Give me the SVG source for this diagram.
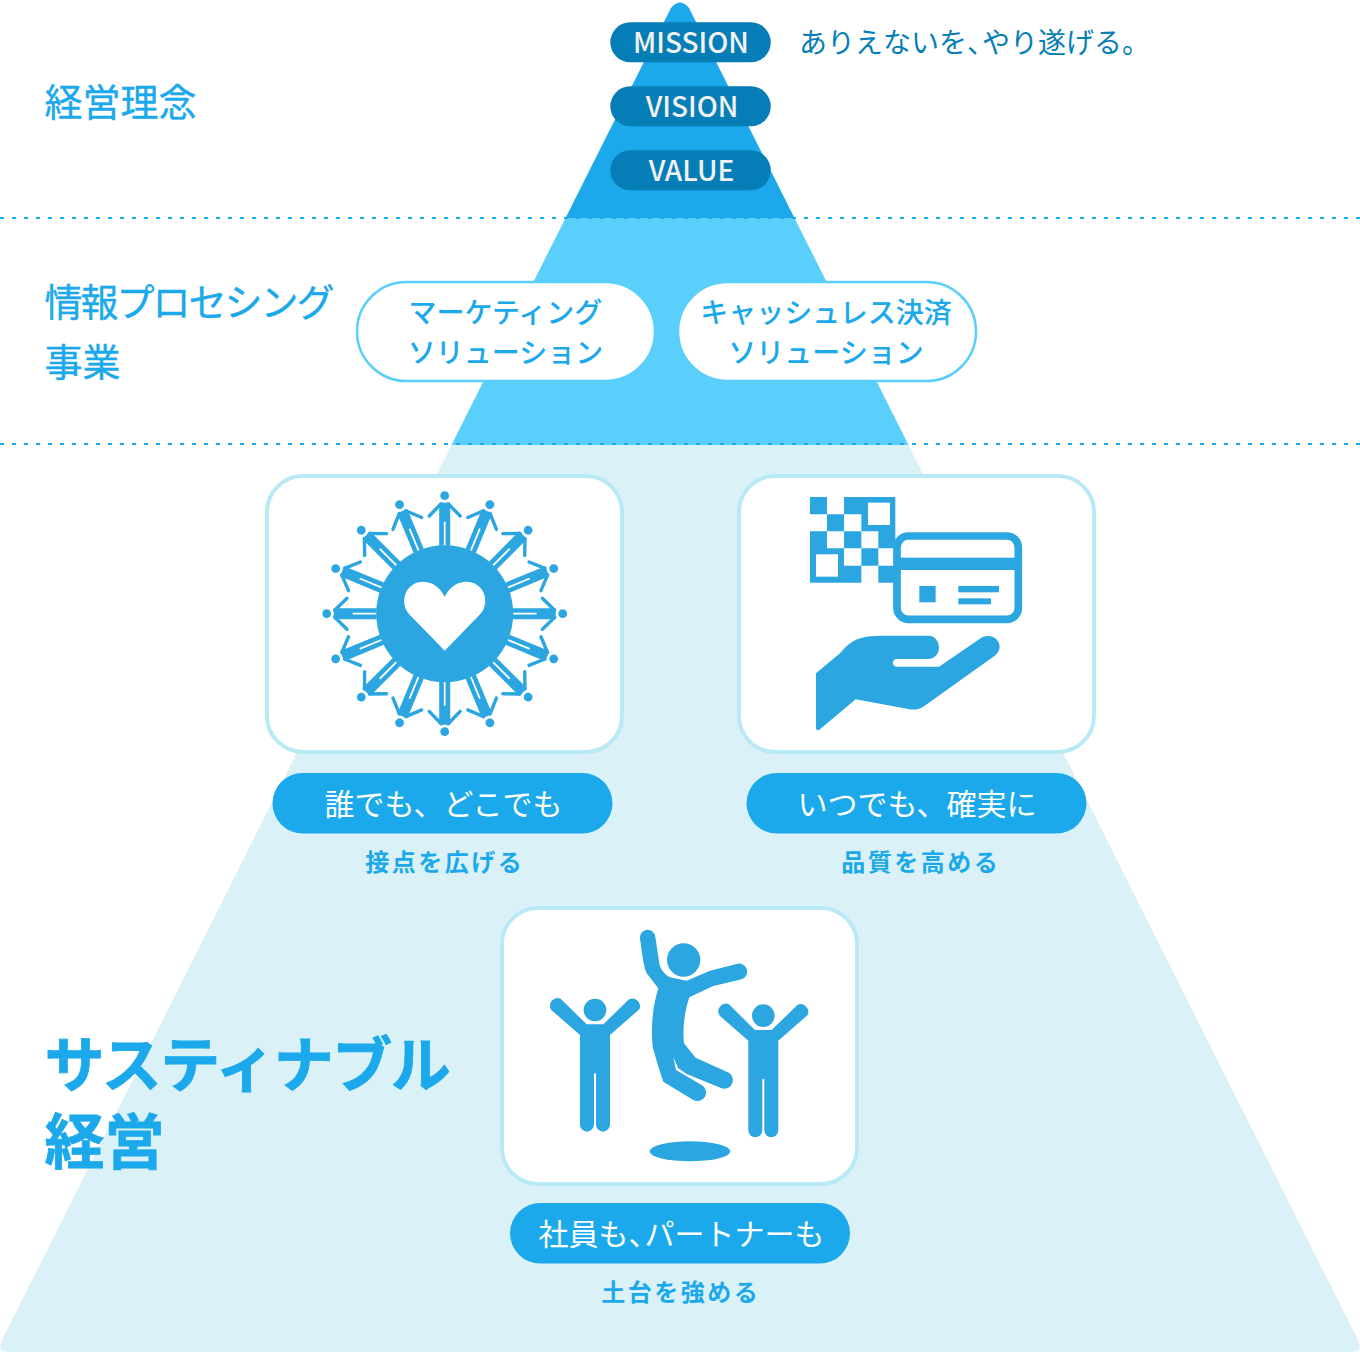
<svg xmlns="http://www.w3.org/2000/svg" width="1360" height="1352" viewBox="0 0 1360 1352">
<style>
text{font-family:"Noto Sans CJK JP","Noto Sans",sans-serif;fill:#1ba9eb}
.h{font-size:38px;font-weight:400;stroke:#1ba9eb;stroke-width:.4px}
.st{font-size:60px;font-weight:700;stroke:#1ba9eb;stroke-width:.8px}
.pill{fill:#057eb7}
.en{font-size:28px;font-weight:500;fill:#f2f2f2;text-anchor:middle}
.sol{fill:#fff;stroke:#5acffb;stroke-width:2.500}
.sl{font-size:28px;font-weight:500;text-anchor:middle}
.card{fill:#fff;stroke:#b8eaf6;stroke-width:4}
.tag{fill:#1ba9eb}
.tt{font-size:30px;fill:#fff;text-anchor:middle}
.sub{font-size:24px;font-weight:700;text-anchor:middle;letter-spacing:2.500px}
.ic{fill:#2ca6e0}
.dot{stroke:#1ba9eb;stroke-width:2;stroke-dasharray:4 8;fill:none}
</style>
<defs>
<clipPath id="py"><path d="M671 8Q680 -3 689 8L1358 1340Q1364 1352 1350 1352H10Q-4 1352 2 1340Z"/></clipPath>
<g id="man">
<circle cx="0" cy="-118" r="4.400"/>
<path d="M-5.500 -111H5.500V-68H0.900V-92H-0.900V-68H-5.500Z"/>
<path d="M-3.500 -110L-15.500 -97.700M3.500 -110L15.500 -97.700" fill="none" stroke="#2ca6e0" stroke-width="3.400" stroke-linecap="round"/>
</g>
<g id="person"><circle cx="195" cy="270" r="34"/><path d="M170 313H220L297 238A23 23 0 0 1 328 268L240 345V614A21 21 0 0 1 198 614V460H192V614A21 21 0 0 1 150 614V345L64 270A23 23 0 0 1 92 236Z"/></g>
</defs>
<g id="pyramid" clip-path="url(#py)">
<rect x="0" y="-5" width="1360" height="223" fill="#1ba9eb"/>
<rect x="0" y="218" width="1360" height="227" fill="#5acffb"/>
<rect x="0" y="445" width="1360" height="907" fill="#dbf1f8"/>
</g>
<g id="connectors">
<path class="dot" d="M0 218H1360M0 444H1360"/>
</g>
<g id="label-philosophy"><text class="h" x="44.500" y="116">経営理念</text></g>
<g id="label-info"><text class="h" x="44.500" y="316" letter-spacing="-2">情報プロセシング</text><text class="h" x="44.500" y="376">事業</text></g>
<g id="label-sustain"><text class="st" x="44.500" y="1087" letter-spacing="-1.500">サスティナブル</text><text class="st" x="44.500" y="1164">経営</text></g>
<g id="mission"><rect class="pill" x="610.300" y="22.300" width="160.500" height="40" rx="20"/><text class="en" x="691" y="53">MISSION</text></g>
<text id="mission-text" x="799" y="53" style="font-size:28px;fill:#057eb7">ありえないを<tspan letter-spacing="-13">、</tspan>やり遂げる。</text>
<g id="vision"><rect class="pill" x="610.300" y="86.300" width="160.500" height="40" rx="20"/><text class="en" x="692" y="117">VISION</text></g>
<g id="value"><rect class="pill" x="610.300" y="150.300" width="160.500" height="40" rx="20"/><text class="en" x="691.500" y="181">VALUE</text></g>
<g id="sol-marketing"><rect class="sol" x="357" y="282" width="298" height="99" rx="49.500"/><text class="sl" x="505.500" y="323">マーケティング</text><text class="sl" x="505.500" y="363">ソリューション</text></g>
<g id="sol-cashless"><rect class="sol" x="678" y="282" width="298" height="99" rx="49.500"/><text class="sl" x="826" y="323">キャッシュレス決済</text><text class="sl" x="826" y="363">ソリューション</text></g>
<g id="card-reach">
<rect class="card" x="267" y="476" width="355" height="276" rx="36"/>
<g id="wheel" transform="translate(444.700 613.700)" class="ic">
<use href="#man"/>
<use href="#man" transform="rotate(22.500)"/><use href="#man" transform="rotate(45)"/><use href="#man" transform="rotate(67.500)"/><use href="#man" transform="rotate(90)"/><use href="#man" transform="rotate(112.500)"/><use href="#man" transform="rotate(135)"/><use href="#man" transform="rotate(157.500)"/><use href="#man" transform="rotate(180)"/><use href="#man" transform="rotate(202.500)"/><use href="#man" transform="rotate(225)"/><use href="#man" transform="rotate(247.500)"/><use href="#man" transform="rotate(270)"/><use href="#man" transform="rotate(292.500)"/><use href="#man" transform="rotate(315)"/><use href="#man" transform="rotate(337.500)"/>
<circle r="68.500"/>
<path fill="#fff" d="M0 -17C-6 -29 -15 -32 -22 -32C-33 -32 -40.500 -23 -40.500 -13C-40.500 -6 -38 -2 -34 2L0 37L34 2C38 -2 40.500 -6 40.500 -13C40.500 -23 33 -32 22 -32C15 -32 6 -29 0 -17Z"/>
</g>
</g>
<g id="tag-reach"><rect class="tag" x="272.500" y="773" width="340" height="60.500" rx="30.250"/><text class="tt" x="443.500" y="814.500">誰でも、どこでも</text><text class="sub" x="444.700" y="871">接点を広げる</text></g>
<g id="card-quality">
<rect class="card" x="739" y="476" width="355" height="276" rx="36"/>
<g transform="translate(790 480) scale(.3333)" class="ic">
<path d="M60 51H111V103H60ZM162 51H316V205H265V154H214V103H162ZM111 103H162V154H111ZM60 154H111V205H162V308H60ZM162 154H214V205H162ZM214 205H265V257H214ZM162 257H214V308H162ZM265 257H316V308H265Z"/>
<rect x="234" y="68" width="66" height="67" fill="#fff"/><rect x="78" y="223" width="66" height="67" fill="#fff"/>
<rect x="321" y="168" width="364" height="250" rx="34" fill="#fff" stroke="#2ca6e0" stroke-width="23"/>
<rect x="321" y="233" width="364" height="37"/>
<rect x="388" y="318" width="49" height="49"/><rect x="505" y="318" width="122" height="19"/><rect x="505" y="355" width="98" height="18"/>
<path d="M78 580L150 520C180 485 200 468 270 467L415 467C440 467 447 490 447 503C447 525 430 536 415 537L320 537C305 537 305 560 320 560L447 560L572 475C590 462 615 468 625 485C635 505 625 520 610 530L400 680C385 690 370 690 355 687L197 658L90 748C84 753 78 750 78 745Z"/>
</g>
</g>
<g id="tag-quality"><rect class="tag" x="746.500" y="773" width="340" height="60.500" rx="30.250"/><text class="tt" x="917" y="814.500">いつでも、確実に</text><text class="sub" x="920.700" y="871">品質を高める</text></g>
<g id="card-foundation">
<rect class="card" x="502" y="908" width="355" height="276" rx="36"/>
<g transform="translate(530 920) scale(.3333)" class="ic">
<use href="#person"/>
<use href="#person" transform="translate(505 17)"/>
<circle cx="461" cy="120" r="50"/>
<path d="M330 55A23 23 0 0 1 376 50L388 130C392 150 405 165 420 172L470 182L540 152L620 132A23 23 0 0 1 635 178L550 198L478 232C462 280 458 330 462 370L497 413L590 455A26 26 0 0 1 575 505L470 462L445 445L430 412L438 450L515 495A25 25 0 0 1 490 540L400 485L385 440L368 380C362 320 368 260 385 205L350 160C340 140 335 90 330 55Z"/>
<ellipse cx="480" cy="694" rx="121" ry="30"/>
</g>
</g>
<g id="tag-foundation"><rect class="tag" x="510" y="1203" width="340" height="60.500" rx="30.250"/><text class="tt" x="538.500" y="1244.500" style="text-anchor:start">社員も<tspan letter-spacing="-14">、</tspan>パートナーも</text><text class="sub" x="680.700" y="1301">土台を強める</text></g>
</svg>
